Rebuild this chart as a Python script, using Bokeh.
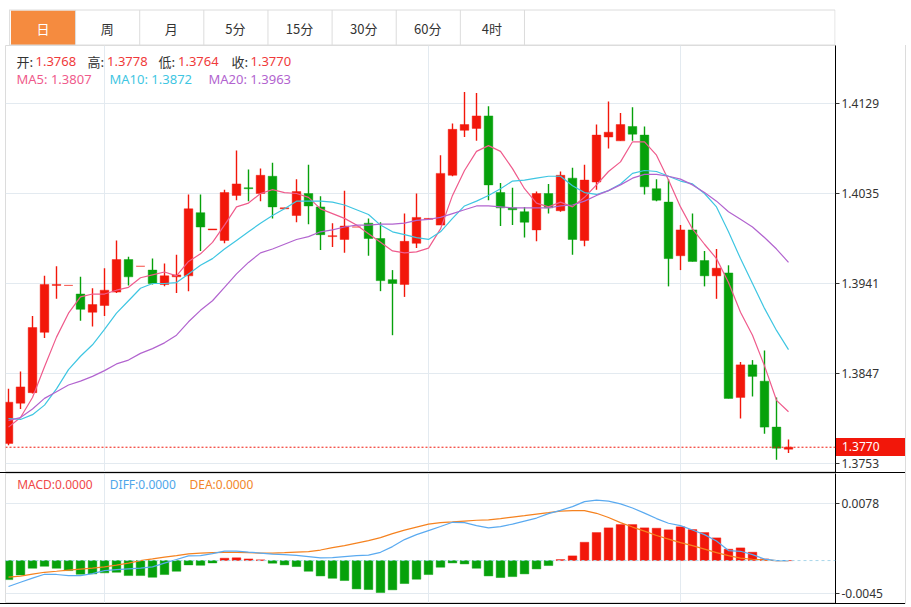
from bokeh.plotting import figure
from bokeh.models import Range1d, FixedTicker, PrintfTickFormatter, Span, Label, ColumnDataSource, Div
from bokeh.layouts import column
from bokeh.embed import file_html
from bokeh.resources import INLINE
from bokeh.core.properties import value

# ---------------- data ----------------
tabs = ["日", "周", "月", "5分", "15分", "30分", "60分", "4时"]

open_ = [1.3774, 1.3816, 1.3827, 1.3890, 1.3939, 1.3939, 1.3930, 1.3911, 1.3918, 1.3932,
         1.3966, 1.3959, 1.3955, 1.3940, 1.3948, 1.3949, 1.4015, 1.3997, 1.3986, 1.4033,
         1.4041, 1.4035, 1.4053, 1.4019, 1.4012, 1.4035, 1.4021, 1.3990, 1.3987, 1.4000,
         1.4004, 1.3988, 1.3945, 1.3940, 1.3983, 1.4008, 1.4002, 1.4054, 1.4101, 1.4103,
         1.4116, 1.4036, 1.4020, 1.4016, 1.3997, 1.4035, 1.4017, 1.4051, 1.3986, 1.4047,
         1.4094, 1.4090, 1.4105, 1.4096, 1.4040, 1.4026, 1.3970, 1.3997, 1.3965, 1.3949,
         1.3952, 1.3822, 1.3856, 1.3839, 1.3791, 1.3768]
high = [1.3831, 1.3849, 1.3907, 1.3949, 1.3959, 1.3939, 1.3948, 1.3936, 1.3957, 1.3986,
        1.3969, 1.3959, 1.3967, 1.3962, 1.3971, 1.4034, 1.4034, 1.3998, 1.4039, 1.4080,
        1.4060, 1.4061, 1.4067, 1.4020, 1.4050, 1.4065, 1.4032, 1.4004, 1.4038, 1.4000,
        1.4009, 1.4005, 1.3955, 1.4014, 1.4035, 1.4009, 1.4075, 1.4108, 1.4141, 1.4140,
        1.4126, 1.4046, 1.4041, 1.4021, 1.4037, 1.4045, 1.4058, 1.4062, 1.4065, 1.4107,
        1.4131, 1.4119, 1.4125, 1.4105, 1.4050, 1.4050, 1.4002, 1.4014, 1.3975, 1.3977,
        1.3960, 1.3859, 1.3861, 1.3871, 1.3822, 1.3778]
low = [1.3772, 1.3810, 1.3826, 1.3884, 1.3925, 1.3939, 1.3902, 1.3896, 1.3907, 1.3931,
       1.3939, 1.3959, 1.3940, 1.3938, 1.3931, 1.3933, 1.3975, 1.3997, 1.3983, 1.4028,
       1.4027, 1.4027, 1.4009, 1.4019, 1.4005, 1.4003, 1.3976, 1.3979, 1.3973, 1.4000,
       1.3970, 1.3933, 1.3887, 1.3927, 1.3978, 1.4008, 1.4002, 1.4053, 1.4094, 1.4090,
       1.4028, 1.4001, 1.4002, 1.3989, 1.3985, 1.4014, 1.4016, 1.3971, 1.3980, 1.4039,
       1.4082, 1.4090, 1.4090, 1.4034, 1.4027, 1.3938, 1.3955, 1.3964, 1.3938, 1.3925,
       1.3821, 1.3800, 1.3823, 1.3784, 1.3757, 1.3764]
close = [1.3817, 1.3833, 1.3895, 1.3940, 1.3940, 1.3939, 1.3914, 1.3919, 1.3934, 1.3966,
         1.3948, 1.3959, 1.3941, 1.3949, 1.3950, 1.4019, 1.4000, 1.3998, 1.4036, 1.4045,
         1.4040, 1.4054, 1.4021, 1.4020, 1.4037, 1.4022, 1.3992, 1.3991, 1.4001, 1.4000,
         1.3988, 1.3944, 1.3941, 1.3985, 1.4010, 1.4009, 1.4056, 1.4102, 1.4107, 1.4116,
         1.4044, 1.4020, 1.4018, 1.4005, 1.4035, 1.4020, 1.4054, 1.3987, 1.4049, 1.4096,
         1.4099, 1.4107, 1.4097, 1.4042, 1.4028, 1.3967, 1.3997, 1.3964, 1.3949, 1.3957,
         1.3821, 1.3856, 1.3844, 1.3791, 1.3769, 1.3770]

ma5 = [1.3791, 1.3801, 1.3822, 1.3854, 1.3885, 1.3910, 1.3927, 1.3930, 1.3930, 1.3934,
       1.3937, 1.3947, 1.3950, 1.3953, 1.3949, 1.3964, 1.3972, 1.3984, 1.4002, 1.4021,
       1.4025, 1.4035, 1.4039, 1.4036, 1.4035, 1.4031, 1.4019, 1.4014, 1.4009, 1.4002,
       1.3993, 1.3984, 1.3975, 1.3973, 1.3974, 1.3978, 1.3998, 1.4033, 1.4059, 1.4079,
       1.4085, 1.4079, 1.4061, 1.4040, 1.4025, 1.4021, 1.4026, 1.4021, 1.4031, 1.4044,
       1.4058, 1.4068, 1.4089, 1.4089, 1.4075, 1.4049, 1.4021, 1.3998, 1.3982, 1.3967,
       1.3942, 1.3911, 1.3887, 1.3855, 1.3819, 1.3807]
ma10 = [1.3800, 1.3799, 1.3804, 1.3814, 1.3831, 1.3851, 1.3865, 1.3877, 1.3893, 1.3910,
        1.3923, 1.3936, 1.3941, 1.3941, 1.3942, 1.3951, 1.3960, 1.3967, 1.3977, 1.3986,
        1.3995, 1.4004, 1.4012, 1.4019, 1.4027, 1.4027, 1.4027, 1.4026, 1.4023, 1.4018,
        1.4013, 1.4002, 1.3995, 1.3992, 1.3989, 1.3987, 1.3995, 1.4009, 1.4022, 1.4027,
        1.4033, 1.4040, 1.4048, 1.4049, 1.4051, 1.4053, 1.4053, 1.4043, 1.4036, 1.4034,
        1.4038, 1.4045, 1.4056, 1.4059, 1.4058, 1.4053, 1.4048, 1.4045, 1.4035, 1.4021,
        1.3995, 1.3967, 1.3941, 1.3915, 1.3892, 1.3872]
ma20 = [1.3798, 1.3801, 1.3810, 1.3821, 1.3828, 1.3835, 1.3839, 1.3844, 1.3850, 1.3857,
        1.3861, 1.3868, 1.3873, 1.3879, 1.3887, 1.3901, 1.3913, 1.3923, 1.3937, 1.3951,
        1.3963, 1.3973, 1.3977, 1.3982, 1.3987, 1.3990, 1.3995, 1.3997, 1.4000, 1.4002,
        1.4002, 1.4003, 1.4003, 1.4004, 1.4007, 1.4008, 1.4010, 1.4014, 1.4018, 1.4022,
        1.4022, 1.4021, 1.4020, 1.4020, 1.4020, 1.4020, 1.4022, 1.4023, 1.4027, 1.4033,
        1.4038, 1.4044, 1.4051, 1.4055, 1.4055, 1.4053, 1.4050, 1.4044, 1.4036, 1.4027,
        1.4016, 1.4008, 1.4000, 1.3989, 1.3977, 1.3963]

diff = [-0.00355, -0.00297, -0.00240, -0.00187, -0.00190, -0.00205, -0.00205, -0.00178, -0.00137, -0.00123,
        -0.00113, -0.00103, -0.00086, -0.00034, 0.00014, 0.00064, 0.00068, 0.00096, 0.00130, 0.00130,
        0.00116, 0.00103, 0.00089, 0.00082, 0.00072, 0.00055, 0.00037, 0.00041, 0.00055, 0.00068,
        0.00075, 0.00113, 0.00191, 0.00287, 0.00355, 0.00410, 0.00465, 0.00523, 0.00519, 0.00478,
        0.00447, 0.00465, 0.00499, 0.00540, 0.00581, 0.00642, 0.00687, 0.00738, 0.00806, 0.00827,
        0.00813, 0.00775, 0.00718, 0.00649, 0.00574, 0.00510, 0.00478, 0.00417, 0.00355, 0.00267,
        0.00137, 0.00127, 0.00082, 0.00020, 0.00000, 0.00000]
dea = [-0.00226, -0.00212, -0.00185, -0.00160, -0.00146, -0.00130, -0.00116, -0.00103, -0.00086, -0.00062,
       -0.00034, 0.00000, 0.00023, 0.00048, 0.00068, 0.00092, 0.00103, 0.00109, 0.00113, 0.00113,
       0.00109, 0.00103, 0.00103, 0.00109, 0.00116, 0.00123, 0.00144, 0.00178, 0.00205, 0.00239,
       0.00273, 0.00314, 0.00369, 0.00417, 0.00458, 0.00499, 0.00519, 0.00529, 0.00540, 0.00551,
       0.00556, 0.00574, 0.00595, 0.00615, 0.00636, 0.00656, 0.00677, 0.00683, 0.00683, 0.00646,
       0.00588, 0.00519, 0.00458, 0.00403, 0.00342, 0.00294, 0.00246, 0.00205, 0.00157, 0.00109,
       0.00068, 0.00034, 0.00018, 0.00010, 0.00000, 0.00000]
macd = [-0.00260, -0.00196, -0.00105, -0.00078, -0.00105, -0.00137, -0.00187, -0.00182, -0.00168, -0.00160,
        -0.00205, -0.00205, -0.00228, -0.00191, -0.00146, -0.00059, -0.00064, -0.00032, 0.00032, 0.00037,
        0.00023, 0.00010, -0.00036, -0.00059, -0.00082, -0.00146, -0.00210, -0.00242, -0.00273, -0.00387,
        -0.00396, -0.00437, -0.00400, -0.00314, -0.00255, -0.00191, -0.00091, -0.00032, -0.00046, -0.00105,
        -0.00210, -0.00232, -0.00219, -0.00182, -0.00114, -0.00068, 0.00014, 0.00064, 0.00250, 0.00383,
        0.00447, 0.00492, 0.00492, 0.00447, 0.00442, 0.00420, 0.00461, 0.00424, 0.00383, 0.00310,
        0.00155, 0.00173, 0.00114, 0.00023, 0.00000, 0.00000]

price_ticks = [1.3753, 1.3847, 1.3941, 1.4035, 1.4129]
macd_ticks = [-0.0045, 0.0078]
month_starts = [8, 35, 56]
last_price = close[-1]

# ---------------- style ----------------
RED = "#f2170a"
GREEN = "#06a10b"
GRID = "#e3eaf0"
BORDER = "#dcdcdc"
MA5_C = "#ef5b8c"
MA10_C = "#3fc6e2"
MA20_C = "#b264cf"
TXT_RED = "#f03a3a"
CJK = "Noto Sans CJK SC"
LAT = "Noto Sans"

W = 906
LEFT = 5
AXIS_X = 835
FRAME_W = AXIS_X - LEFT
PX = 12.0            # pixels per candle
XS = -0.25
x_rng = Range1d(XS, XS + FRAME_W / PX)
TAB_H = 45
MAIN_H = 427
MAIN_Y = (1.37436, 1.418958)
MACD_H = 130
MACD_Y = (-0.005867, 0.0119)


def ix(page_x):
    return XS + (page_x - LEFT) / PX


# ---------------- tab bar ----------------
tb = figure(width=W, height=TAB_H, x_range=Range1d(0, W), y_range=Range1d(TAB_H, 0),
            toolbar_location=None, output_backend="svg", min_border=0,
            x_axis_location=None, y_axis_location=None, outline_line_color=None)
tb.xgrid.visible = False
tb.ygrid.visible = False
tab_left = [6 + 70 * i for i in range(len(tabs))]
tb.quad(left=[tab_left[0]], right=[tab_left[0] + 70], top=[10], bottom=[44.5],
        fill_color="#f58b3f", line_color=None)
tb.segment(x0=[4, 4], y0=[9.5, 44.5], x1=[W - 0.5, W - 0.5], y1=[9.5, 44.5], line_color=BORDER)
sep_x = [l + 70.5 for l in tab_left]
tb.segment(x0=sep_x, y0=[9.5] * len(sep_x), x1=sep_x, y1=[44.5] * len(sep_x), line_color=BORDER)
tb.segment(x0=[4.5, W - 0.5], y0=[9.5, 9.5], x1=[4.5, W - 0.5], y1=[45, 45], line_color=BORDER)
tab_src = ColumnDataSource(dict(x=[l + 35 for l in tab_left], y=[27.5] * len(tabs), t=tabs,
                                c=["#ffffff"] + ["#333333"] * (len(tabs) - 1)))
tb.text(x="x", y="y", text="t", text_color="c", source=tab_src, text_align="center",
        text_baseline="middle", text_font=value(CJK), text_font_size="13px")


def style_axis(a, ticks):
    a.ticker = FixedTicker(ticks=ticks)
    a.formatter = PrintfTickFormatter(format="%.4f")
    a.axis_line_color = "#000000"
    a.major_tick_line_color = "#333333"
    a.major_tick_out = 4
    a.major_tick_in = 0
    a.minor_tick_line_color = None
    a.major_label_text_font = LAT
    a.major_label_text_font_size = "12px"
    a.major_label_text_color = "#333333"
    a.major_label_standoff = 2


# ---------------- main chart ----------------
p = figure(width=W, height=MAIN_H, x_range=x_rng, y_range=Range1d(*MAIN_Y),
           x_axis_location=None, y_axis_location="right", toolbar_location=None,
           output_backend="svg", min_border_left=LEFT, min_border_right=W - AXIS_X,
           min_border_top=0, min_border_bottom=0, outline_line_color=BORDER)
p.xgrid.ticker = FixedTicker(ticks=month_starts)
p.xgrid.grid_line_color = GRID
p.ygrid.grid_line_color = GRID
style_axis(p.yaxis[0], price_ticks)

idx = list(range(len(open_)))
colors = [RED if c >= o else GREEN for o, c in zip(open_, close)]
src = ColumnDataSource(dict(x=idx, h=high, l=low,
                            top=[max(o, c) for o, c in zip(open_, close)],
                            bot=[min(o, c) for o, c in zip(open_, close)], color=colors))
p.segment(x0="x", y0="h", x1="x", y1="l", line_color="color", line_width=1.4, source=src)
p.vbar(x="x", top="top", bottom="bot", width=0.72, fill_color="color", line_color="color",
       line_alpha=0.45, line_width=1, source=src)

p.line(idx, ma5, line_color=MA5_C, line_width=1.2)
p.line(idx, ma10, line_color=MA10_C, line_width=1.2)
p.line(idx, ma20, line_color=MA20_C, line_width=1.2)

p.add_layout(Span(location=last_price, dimension="width", line_color=RED, line_dash="2 2", line_width=1))

y1 = 1.417287
y2 = 1.415459
info_names = ["开:", "高:", "低:", "收:"]
info_vals = [open_[-1], high[-1], low[-1], close[-1]]
name_x = [16, 87, 158, 231]
val_x = [35, 106.5, 177.5, 250]
for nm, vl, nx, vx in zip(info_names, info_vals, name_x, val_x):
    p.add_layout(Label(x=ix(nx), y=y1, text=nm, text_color="#333333", text_font=CJK,
                       text_font_size="13px", text_baseline="middle"))
    p.add_layout(Label(x=ix(vx), y=y1, text="%.4f" % vl, text_color=TXT_RED, text_font=LAT,
                       text_font_size="13px", text_baseline="middle"))
ma_txt = ["MA5: %.4f" % ma5[-1], "MA10: %.4f" % ma10[-1], "MA20: %.4f" % ma20[-1]]
for t, xx, c in zip(ma_txt, [16, 109, 208], [MA5_C, MA10_C, MA20_C]):
    p.add_layout(Label(x=ix(xx), y=y2, text=t, text_color=c, text_font=LAT,
                       text_font_size="13px", text_baseline="middle"))

sep1 = Div(text="", width=W, height=1, margin=0, styles={"background-color": "#000000"})

# ---------------- MACD ----------------
m = figure(width=W, height=MACD_H, x_range=x_rng, y_range=Range1d(*MACD_Y),
           x_axis_location=None, y_axis_location="right", toolbar_location=None,
           output_backend="svg", min_border_left=LEFT, min_border_right=W - AXIS_X,
           min_border_top=0, min_border_bottom=0, outline_line_color=BORDER)
m.xgrid.ticker = FixedTicker(ticks=month_starts)
m.xgrid.grid_line_color = GRID
m.ygrid.grid_line_color = GRID
style_axis(m.yaxis[0], macd_ticks)

m.add_layout(Span(location=0, dimension="width", line_color="#a9d6ea", line_dash="3 3", line_width=1))
mcol = [RED if v >= 0 else GREEN for v in macd]
msrc = ColumnDataSource(dict(x=idx, top=macd, color=mcol))
m.vbar(x="x", top="top", bottom=0, width=0.72, fill_color="color", line_color="color",
       line_alpha=0.45, line_width=1, source=msrc)
m.line(idx, dea, line_color="#f5821f", line_width=1.2)
m.line(idx, diff, line_color="#5aaaf0", line_width=1.2)

ym = 0.010356
for t, xx, c in zip(["MACD:%.4f" % macd[-1], "DIFF:%.4f" % diff[-1], "DEA:%.4f" % dea[-1]],
                    [16.7, 109.3, 189], ["#f04848", "#4ea6ea", "#f2862a"]):
    m.add_layout(Label(x=ix(xx), y=ym, text=t, text_color=c, text_font=LAT,
                       text_font_size="12px", text_baseline="middle"))

sep2 = Div(text="", width=W, height=1, margin=0, styles={"background-color": "#000000"})

# price tag over the axis strip (an HTML overlay, placed from the price through the main y scale)
frac = (last_price - MAIN_Y[0]) / (MAIN_Y[1] - MAIN_Y[0])
tag_center = TAB_H + (1 - frac) * MAIN_H
tag_h = 18
tag = Div(text="%.4f" % last_price, width=W - AXIS_X - 2, height=tag_h, margin=0,
          styles={"position": "absolute", "left": "%dpx" % (AXIS_X + 1),
                  "top": "%dpx" % round(tag_center - tag_h / 2),
                  "background-color": RED, "color": "#ffffff", "font-family": LAT,
                  "font-size": "12px", "line-height": "%dpx" % tag_h, "padding-left": "6px",
                  "box-sizing": "border-box", "z-index": "10"})
rborder = Div(text="", width=1, height=MAIN_H + MACD_H + 2, margin=0,
              styles={"position": "absolute", "left": "%dpx" % (W - 1), "top": "%dpx" % TAB_H,
                      "background-color": BORDER, "z-index": "5"})

layout = column(tb, p, sep1, m, sep2, tag, rborder, spacing=0)
open("out.html", "w").write(file_html(layout, INLINE))
